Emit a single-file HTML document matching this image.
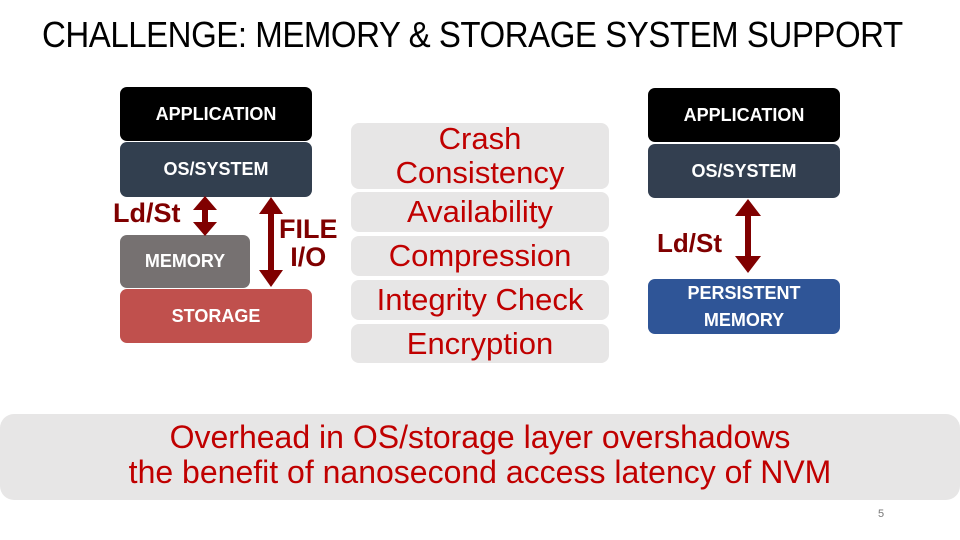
<!DOCTYPE html>
<html><head><meta charset="utf-8"><style>
body{margin:0;width:960px;height:540px;background:#fff;position:relative;overflow:hidden;font-family:"Liberation Sans",sans-serif}
.a{position:absolute}
.b{position:absolute;border-radius:7px;color:#fff;font-weight:bold;display:flex;align-items:center;justify-content:center;text-align:center;font-size:18px;line-height:27px}
.g{position:absolute;left:351px;width:258px;background:#e7e6e6;border-radius:8px;color:#c00000;font-size:31px;display:flex;align-items:center;justify-content:center;text-align:center;line-height:34px;white-space:nowrap}
.r{color:#800000;font-weight:bold;position:absolute}
</style></head><body>
<div class="a" style="left:42px;top:14px;font-size:36px;letter-spacing:-0.5px;white-space:nowrap;color:#000;transform:scaleX(0.917);transform-origin:0 0">CHALLENGE: MEMORY &amp; STORAGE SYSTEM SUPPORT</div>

<div class="b" style="left:120px;top:87px;width:192px;height:54px;background:#000">APPLICATION</div>
<div class="b" style="left:120px;top:142px;width:192px;height:55px;background:#323f4f">OS/SYSTEM</div>
<div class="b" style="left:120px;top:235px;width:130px;height:53px;background:#767171">MEMORY</div>
<div class="b" style="left:120px;top:289px;width:192px;height:54px;background:#c0504d">STORAGE</div>

<svg class="a" style="left:0;top:0" width="960" height="540">
<g fill="#800000">
<rect x="202" y="206" width="6" height="20"/><polygon points="193,210 205,196 217,210"/><polygon points="193,222 205,236 217,222"/>
<rect x="268" y="210" width="6" height="64"/><polygon points="259,214 271,197 283,214"/><polygon points="259,270 271,287 283,270"/>
<rect x="745" y="212" width="6" height="48"/><polygon points="735,216 748,199 761,216"/><polygon points="735,256 748,273 761,256"/>
</g></svg>
<div class="r" style="left:113px;top:198px;font-size:27px">Ld/St</div>
<div class="r" style="left:279px;top:215px;font-size:27px;line-height:28px;text-align:center">FILE<br>I/O</div>

<div class="g" style="top:123px;height:66px;line-height:34px">Crash<br>Consistency</div>
<div class="g" style="top:192px;height:40px">Availability</div>
<div class="g" style="top:236px;height:40px">Compression</div>
<div class="g" style="top:280px;height:40px">Integrity Check</div>
<div class="g" style="top:324px;height:39px">Encryption</div>

<div class="b" style="left:648px;top:88px;width:192px;height:54px;background:#000">APPLICATION</div>
<div class="b" style="left:648px;top:144px;width:192px;height:54px;background:#333f50">OS/SYSTEM</div>
<div class="r" style="left:657px;top:228px;font-size:26px">Ld/St</div>
<div class="b" style="left:648px;top:279px;width:192px;height:55px;background:#2f5597">PERSISTENT<br>MEMORY</div>

<div class="a" style="left:0;top:414px;width:960px;height:86px;background:#e7e6e6;border-radius:14px"></div>
<div class="a" style="left:0;top:420px;width:960px;text-align:center;color:#c00000;font-size:32px;line-height:35px;white-space:nowrap">Overhead in OS/storage layer overshadows<br>the benefit of nanosecond access latency of NVM</div>
<div class="a" style="left:878px;top:508px;font-size:11px;color:#777">5</div>
</body></html>
